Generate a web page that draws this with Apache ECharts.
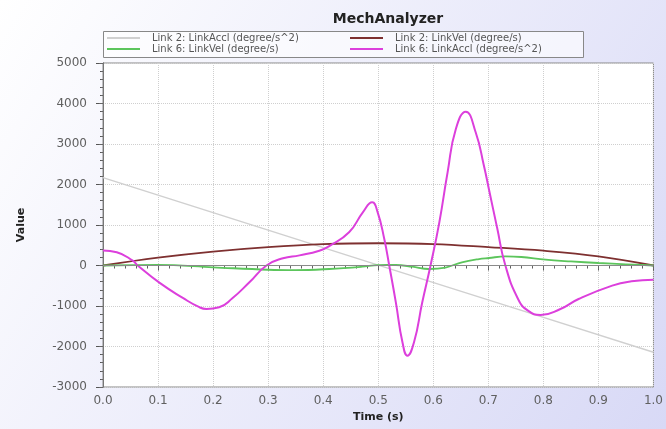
<!DOCTYPE html>
<html>
<head>
<meta charset="utf-8">
<script src="https://cdn.jsdelivr.net/npm/echarts@6/dist/echarts.min.js"></script>
<style>html,body{margin:0;padding:0;background:#fff}#c{width:666px;height:429px}</style>
</head>
<body>
<div id="c"></div>
<script>
const titleText = 'MechAnalyzer';
const seriesNames = ['Link 2: LinkAccl (degree/s^2)', 'Link 2: LinkVel (degree/s)', 'Link 6: LinkVel (degree/s)', 'Link 6: LinkAccl (degree/s^2)'];

const tAcc2 = [0, 0.25, 0.5, 0.75, 1.0];
const acc2 = [2170, 1090, 10, -1065, -2140];

const tVel2 = [0, 0.1, 0.2, 0.3, 0.4, 0.5, 0.6, 0.7, 0.8, 0.9, 1.0];
const vel2 = [0, 195, 345, 455, 528, 550, 530, 455, 365, 225, 0];

const tVel6 = [0, 0.1, 0.2, 0.3, 0.35, 0.411, 0.471, 0.5, 0.532, 0.562, 0.592, 0.622, 0.652, 0.683, 0.701, 0.731, 0.76, 0.804, 0.85, 0.9, 0.95, 1.0];
const vel6 = [0, 15, -45, -105, -115, -86, -30, 10, 12, -30, -86, -50, 80, 160, 185, 225, 210, 143, 100, 62, 30, 0];

const tAcc6 = [0, 0.025, 0.054, 0.063, 0.103, 0.145, 0.175, 0.188, 0.211, 0.235, 0.266, 0.297, 0.327, 0.357, 0.393, 0.411, 0.447, 0.472, 0.489, 0.499, 0.511, 0.520, 0.532, 0.544, 0.553, 0.565, 0.580, 0.595, 0.611, 0.626, 0.641, 0.659, 0.677, 0.692, 0.701, 0.716, 0.731, 0.754, 0.772, 0.795, 0.830, 0.864, 0.925, 0.960, 1.0];
const acc6 = [370, 326, 120, 0, -430, -800, -1030, -1074, -1032, -810, -415, 0, 178, 250, 365, 480, 820, 1313, 1560, 1313, 654, 0, -909, -1896, -2227, -1896, -909, 0, 1066, 2301, 3370, 3798, 3289, 2464, 1890, 930, 0, -827, -1115, -1222, -1080, -827, -498, -390, -350];

const colors = ['#d0d0d0', '#7e3030', '#5cc55c', '#dc3fdc'];

function pairs(t, v) { return t.map((x, i) => [x, v[i]]); }

const chart = echarts.init(document.getElementById('c'), null, {renderer: 'canvas'});
const tickFont = {fontFamily: 'DejaVu Sans', fontSize: 12, color: '#606060'};
const axisLineStyle = {color: '#777', width: 1};

const legendCommon = {
  orient: 'vertical', top: 33, padding: 0, itemGap: 1,
  icon: 'rect', itemHeight: 2, itemWidth: 33,
  textStyle: {fontFamily: 'DejaVu Sans', fontSize: 10, color: '#555', padding: [0, 0, 0, 7]}
};

chart.setOption({
  animation: false,
  backgroundColor: {type: 'linear', x: 0, y: 0, x2: 1, y2: 1, colorStops: [{offset: 0, color: '#ffffff'}, {offset: 1, color: '#d8d9f6'}]},
  title: {text: titleText, left: 383, top: 7, textAlign: 'center', textStyle: {fontFamily: 'DejaVu Sans', fontWeight: 'bold', fontSize: 14, color: '#222'}},
  legend: [
    Object.assign({}, legendCommon, {left: 107, data: [seriesNames[0], seriesNames[2]]}),
    Object.assign({}, legendCommon, {left: 350, data: [seriesNames[1], seriesNames[3]]})
  ],
  graphic: [{type: 'rect', left: 103, top: 31, shape: {width: 480, height: 26}, style: {fill: 'rgba(255,255,255,0.6)', stroke: '#888', lineWidth: 1}, z: -1}],
  grid: {left: 103, right: 11, top: 63, bottom: 42, show: true, backgroundColor: '#ffffff', borderColor: '#888'},
  xAxis: [{
    type: 'value', min: 0, max: 1, interval: 0.1, position: 'bottom',
    name: 'Time (s)', nameLocation: 'middle', nameGap: 25,
    nameTextStyle: {fontFamily: 'DejaVu Sans', fontWeight: 'bold', fontSize: 11, color: '#222'},
    axisLine: {show: true, lineStyle: axisLineStyle},
    axisTick: {show: true, length: 5, lineStyle: {color: '#555'}},
    minorTick: {show: true, splitNumber: 5, length: 3, lineStyle: {color: '#555'}},
    axisLabel: Object.assign({margin: 8, formatter: v => v.toFixed(1)}, tickFont),
    splitLine: {show: true, lineStyle: {color: '#cfcfcf', type: 'dotted'}}
  }, {
    type: 'value', min: 0, max: 1, interval: 0.1, position: 'top',
    axisLine: {show: true, lineStyle: axisLineStyle},
    axisTick: {show: true, inside: true, length: 4, lineStyle: {color: '#666'}},
    minorTick: {show: true, splitNumber: 5, length: 2, lineStyle: {color: '#666'}},
    axisLabel: {show: false}, splitLine: {show: false}
  }],
  yAxis: [{
    type: 'value', min: -3000, max: 5000, interval: 1000, position: 'left',
    name: 'Value', nameLocation: 'middle', nameGap: 76, nameRotate: 90,
    nameTextStyle: {fontFamily: 'DejaVu Sans', fontWeight: 'bold', fontSize: 11, color: '#222'},
    axisLine: {show: true, lineStyle: axisLineStyle},
    axisTick: {show: true, length: 7, lineStyle: {color: '#555'}},
    minorTick: {show: true, splitNumber: 5, length: 3, lineStyle: {color: '#555'}},
    axisLabel: Object.assign({margin: 16, formatter: v => String(v)}, tickFont),
    splitLine: {show: true, lineStyle: {color: '#cfcfcf', type: 'dotted'}}
  }, {
    type: 'value', min: -3000, max: 5000, interval: 1000, position: 'right',
    axisLine: {show: true, lineStyle: axisLineStyle},
    axisTick: {show: true, inside: true, length: 4, lineStyle: {color: '#666'}},
    minorTick: {show: true, splitNumber: 5, length: 2, lineStyle: {color: '#666'}},
    axisLabel: {show: false}, splitLine: {show: false}
  }],
  series: [
    {name: seriesNames[0], type: 'line', data: pairs(tAcc2, acc2), showSymbol: false, color: colors[0], lineStyle: {width: 1.5},
     markLine: {silent: true, symbol: 'none', label: {show: false}, lineStyle: {color: '#8a8a8a', type: 'solid', width: 1}, data: [{yAxis: 0}]}},
    {name: seriesNames[1], type: 'line', data: pairs(tVel2, vel2), smooth: 0.4, showSymbol: false, color: colors[1], lineStyle: {width: 1.8}},
    {name: seriesNames[2], type: 'line', data: pairs(tVel6, vel6), smooth: 0.4, showSymbol: false, color: colors[2], lineStyle: {width: 1.8}},
    {name: seriesNames[3], type: 'line', data: pairs(tAcc6, acc6), smooth: 0.5, showSymbol: false, color: colors[3], lineStyle: {width: 2}}
  ]
});
</script>
</body>
</html>
